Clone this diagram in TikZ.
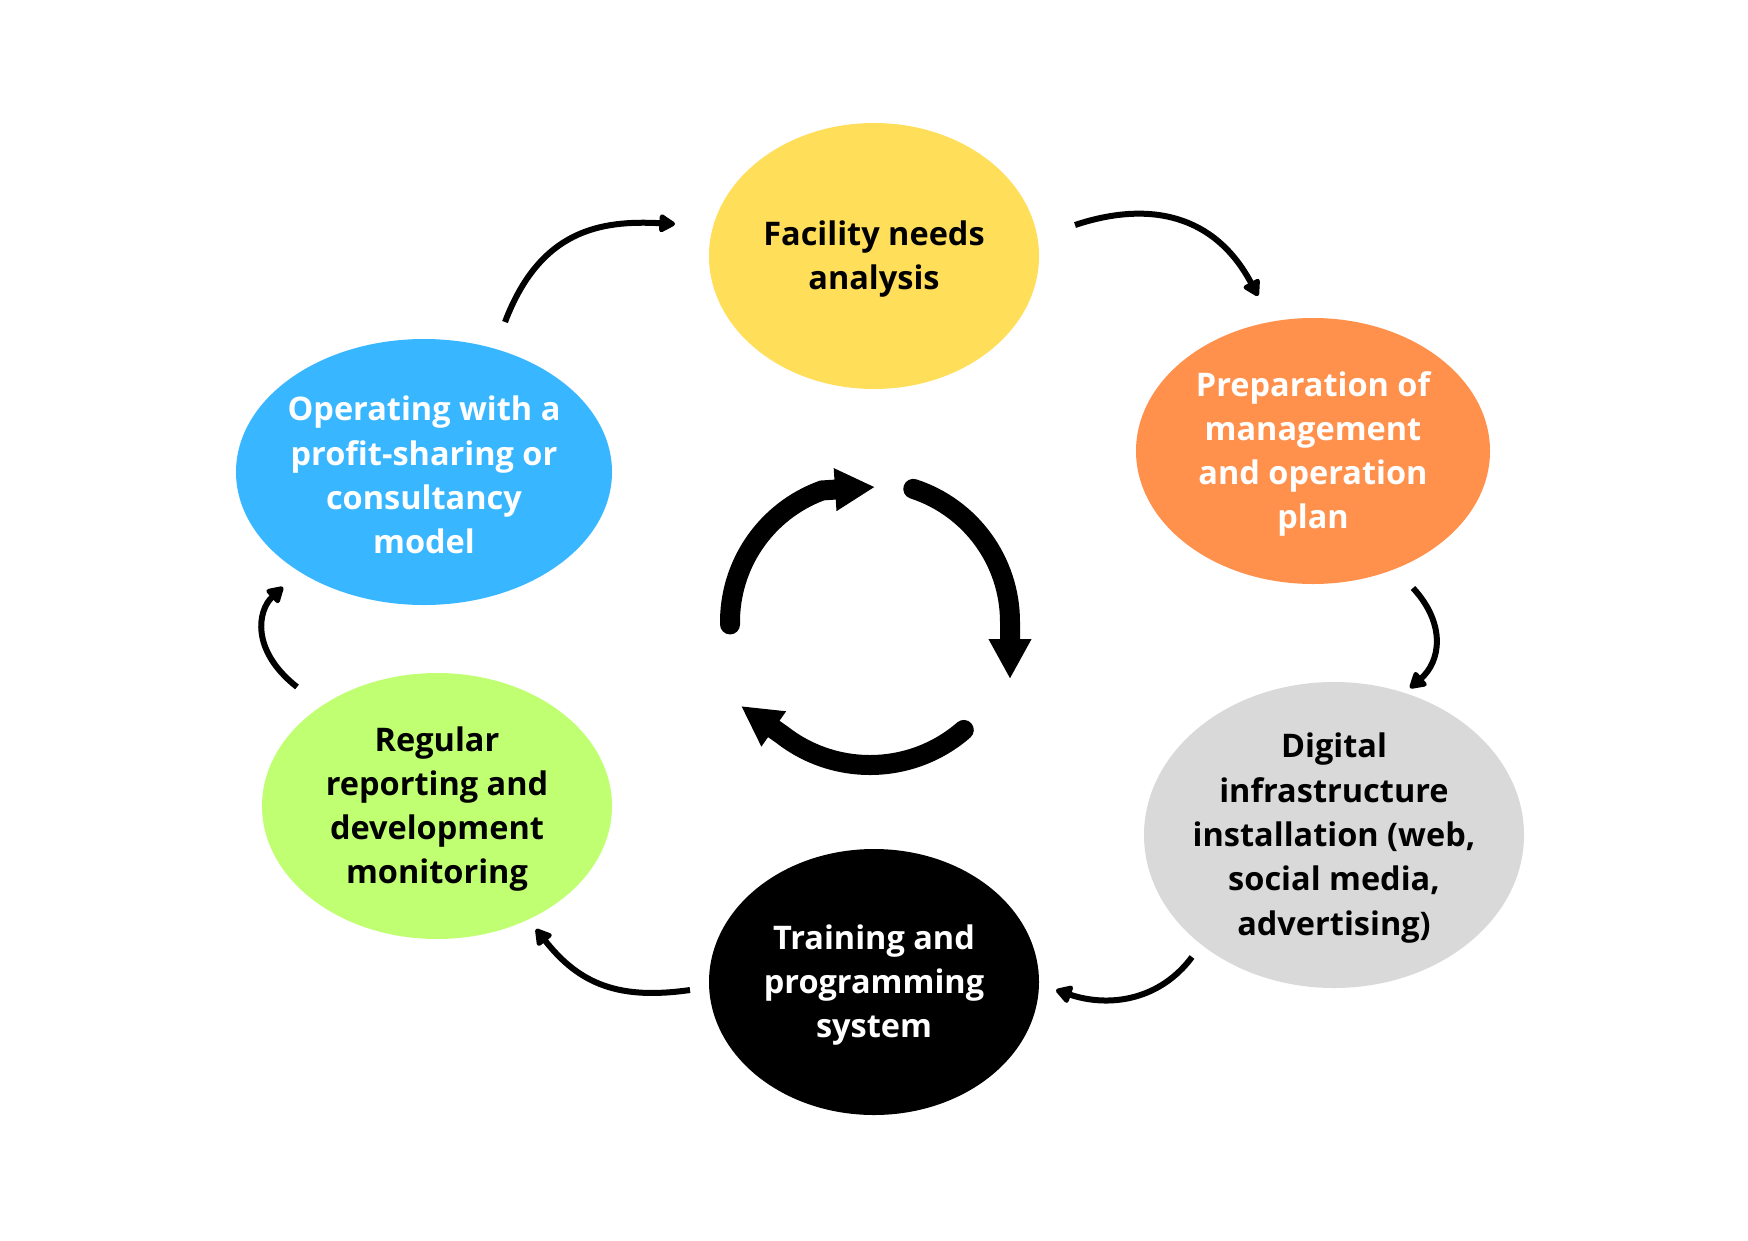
\documentclass[tikz,border=0pt]{standalone}
\usepackage{fontspec}
\setmainfont{Open Sans}
\usetikzlibrary{arrows.meta,shapes.geometric,calc}
\definecolor{cyellow}{HTML}{FFDE59}
\definecolor{corange}{HTML}{FF914D}
\definecolor{cgrey}{HTML}{D9D9D9}
\definecolor{cgreen}{HTML}{C1FF72}
\definecolor{cblue}{HTML}{38B6FF}
\tikzset{
  blob/.style={ellipse, draw=none, inner sep=0pt},
  txt/.style={align=center, font=\fontsize{32.5}{44.3}\selectfont\bfseries, inner sep=0pt},
  flow/.style={line width=6pt, -{Triangle[length=18pt,width=20pt,round]}},
  cyc/.style={line width=20pt, line cap=round, -{Triangle[length=40pt,width=40pt]}}
}
\begin{document}
\begin{tikzpicture}[x=1pt,y=-1pt]
\useasboundingbox (0,0) rectangle (1748,1240);
\fill[white] (0,0) rectangle (1748,1240);
% ellipses
\node[blob, fill=cyellow, minimum width=330pt, minimum height=266pt] (e1) at (874,256) {};
\node[blob, fill=corange, minimum width=354pt, minimum height=266pt] (e2) at (1313,451) {};
\node[blob, fill=cgrey, minimum width=380pt, minimum height=306pt] (e3) at (1334,835) {};
\node[blob, fill=black, minimum width=330pt, minimum height=266pt] (e4) at (874,982) {};
\node[blob, fill=cgreen, minimum width=350pt, minimum height=266pt] (e5) at (437,806) {};
\node[blob, fill=cblue, minimum width=376pt, minimum height=266pt] (e6) at (424,472) {};
% texts
\node[txt, text=black] (t1) at ([yshift=-3pt]e1) {Facility needs\\analysis};
\node[txt, text=white] (t2) at ([yshift=-3pt]e2) {Preparation of\\management\\and operation\\plan};
\node[txt, text=black] (t3) at ([yshift=-3pt]e3) {Digital\\infrastructure\\installation (web,\\social media,\\advertising)};
\node[txt, text=white] (t4) at ([yshift=-3pt]e4) {Training and\\programming\\system};
\node[txt, text=black] (t5) at ([yshift=-3pt]e5) {Regular\\reporting and\\development\\monitoring};
\node[txt, text=white] (t6) at ([yshift=-3pt]e6) {Operating with a\\profit-sharing or\\consultancy\\model};
% outer connectors
\coordinate (a1) at (505,322); \coordinate (a2) at (675,224);
\coordinate (b1) at (1075,225); \coordinate (b2) at (1258,296);
\coordinate (c1) at (1413,588); \coordinate (c2) at (1410,688);
\coordinate (d1) at (1192,957); \coordinate (d2) at (1056,990);
\coordinate (f1) at (690,990); \coordinate (f2) at (536,929);
\coordinate (g1) at (297,687); \coordinate (g2) at (283,587);
\draw[flow] (a1) .. controls (540,230) and (600,220) .. (a2);
\draw[flow] (b1) .. controls (1150,200) and (1215,215) .. (b2);
\draw[flow] (c1) .. controls (1447,625) and (1440,662) .. (c2);
\draw[flow] (d1) .. controls (1160,1000) and (1110,1008) .. (d2);
\draw[flow] (f1) .. controls (620,1000) and (580,985) .. (f2);
\draw[flow] (g1) .. controls (250,650) and (258,610) .. (g2);
% inner cycle
\coordinate (cc) at (870,622);
\coordinate (p1) at (875,487);
\coordinate (p2) at (1010,679);
\coordinate (p3) at (741,706);
\draw[cyc] ($(cc)+(179:140)$) arc[start angle=179, end angle=250, radius=140] -- (p1);
\draw[cyc] ($(cc)+(288:140)$) arc[start angle=288, end angle=360, radius=140] -- (p2);
\draw[cyc] ($(cc)+(49:143)$) arc[start angle=49, end angle=128, radius=143] -- (p3);
\end{tikzpicture}
\end{document}
